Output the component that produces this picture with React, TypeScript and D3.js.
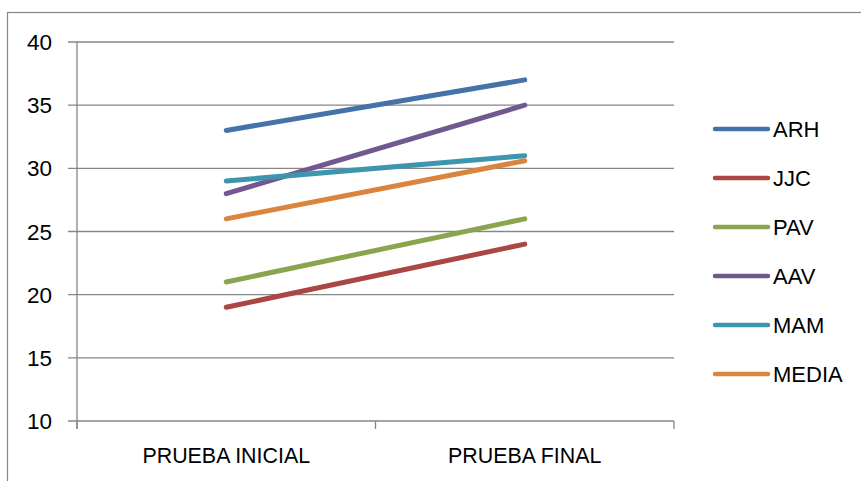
import React from "react";
import * as d3 from "d3";

const categories = ["PRUEBA INICIAL", "PRUEBA FINAL"];
const seriesNames = ["ARH", "JJC", "PAV", "AAV", "MAM", "MEDIA"];
const arh = [33, 37];
const jjc = [19, 24];
const pav = [21, 26];
const aav = [28, 35];
const mam = [29, 31];
const media = [26, 30.6];
const yTicks = [10, 15, 20, 25, 30, 35, 40];
const colors = ["#4572A7", "#AA4643", "#89A54E", "#71588F", "#3D96AE", "#DB843D"];

const seriesValues = [arh, jjc, pav, aav, mam, media];

const W = 861;
const H = 481;
const plot = { left: 77, right: 674, top: 42, bottom: 421 };
const font = "'Liberation Sans', Arial, sans-serif";

export default function App() {
  const x = d3.scaleBand<string>().domain(categories).range([plot.left, plot.right]);
  const y = d3.scaleLinear().domain([10, 40]).range([plot.bottom, plot.top]);
  const line = d3
    .line<number>()
    .x((_, i) => (x(categories[i]) as number) + x.bandwidth() / 2)
    .y((d) => y(d));
  const grid = "#868686";
  const catTicks = [plot.left, ...categories.map((c) => (x(c) as number) + x.bandwidth())];

  return (
    <svg
      width={W}
      height={H}
      style={{ position: "absolute", left: 0, top: 0, display: "block" }}
    >
      <rect x={0} y={0} width={W} height={H} fill="#fff" />
      {/* chart area frame */}
      <rect x={7.5} y={12.5} width={W + 20} height={H + 20} fill="none" stroke="#868686" strokeWidth={1.2} />

      {/* horizontal gridlines and y ticks */}
      {yTicks.map((t) => (
        <g key={t}>
          <line x1={plot.left - 9} x2={plot.right} y1={y(t)} y2={y(t)} stroke={grid} strokeWidth={1.3} />
          <text
            x={52}
            y={y(t) + 8}
            textAnchor="end"
            fontFamily={font}
            fontSize={22.5}
            fill="#000"
          >
            {t}
          </text>
        </g>
      ))}
      {/* y axis */}
      <line x1={plot.left} x2={plot.left} y1={plot.top} y2={plot.bottom + 8} stroke={grid} strokeWidth={1.3} />
      {/* category ticks */}
      {catTicks.map((cx, i) => (
        <line key={i} x1={cx} x2={cx} y1={plot.bottom} y2={plot.bottom + 8} stroke={grid} strokeWidth={1.3} />
      ))}
      {categories.map((c) => (
        <text
          key={c}
          x={(x(c) as number) + x.bandwidth() / 2}
          y={462.5}
          textAnchor="middle"
          fontFamily={font}
          fontSize={21.4}
          fill="#000"
        >
          {c}
        </text>
      ))}

      {/* series lines */}
      {seriesValues.map((vals, i) => (
        <path
          key={seriesNames[i]}
          d={line(vals) || ""}
          fill="none"
          stroke={colors[i]}
          strokeWidth={5}
          strokeLinecap="round"
        />
      ))}

      {/* legend */}
      {seriesNames.map((n, i) => {
        const ly = 129 + i * 49;
        return (
          <g key={n}>
            <line x1={715} x2={768} y1={ly} y2={ly} stroke={colors[i]} strokeWidth={4.5} strokeLinecap="round" />
            <text x={773} y={ly + 8} fontFamily={font} fontSize={22} fill="#000">
              {n}
            </text>
          </g>
        );
      })}
    </svg>
  );
}
